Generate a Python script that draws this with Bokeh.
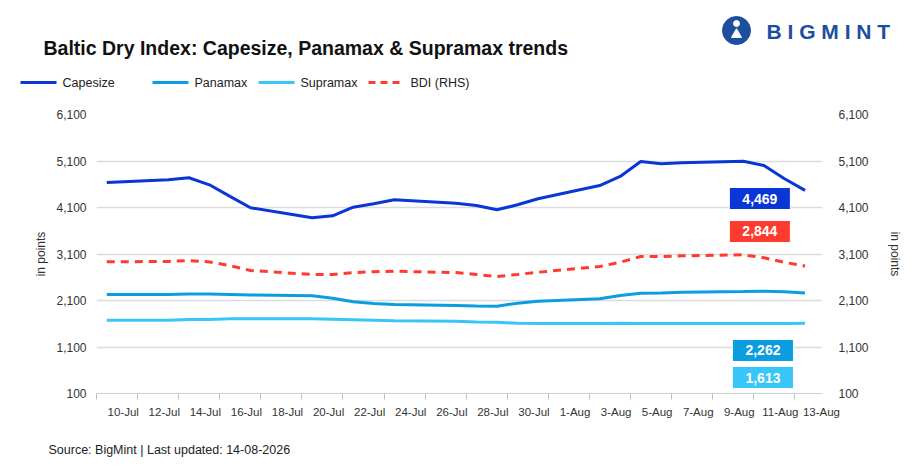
import pandas as pd
from bokeh.plotting import figure
from bokeh.layouts import column
from bokeh.models import (ColumnDataSource, Range1d, LinearAxis, FixedTicker, Label,
                          NumeralTickFormatter)
from bokeh.core.properties import value
from bokeh.embed import file_html
from bokeh.resources import INLINE

dates = ["2026-07-10", "2026-07-13", "2026-07-14", "2026-07-15", "2026-07-16", "2026-07-17",
         "2026-07-20", "2026-07-21", "2026-07-22", "2026-07-23", "2026-07-24",
         "2026-07-27", "2026-07-28", "2026-07-29", "2026-07-30", "2026-07-31",
         "2026-08-03", "2026-08-04", "2026-08-05", "2026-08-06", "2026-08-07",
         "2026-08-10", "2026-08-11", "2026-08-12", "2026-08-13"]
capesize = [4638, 4696, 4739, 4588, 4340, 4094, 3878, 3921, 4106, 4180, 4266,
            4192, 4143, 4050, 4158, 4287, 4573, 4767, 5089, 5040, 5060, 5096, 5003, 4717, 4469]
panamax = [2229, 2229, 2240, 2240, 2230, 2220, 2201, 2150, 2075, 2035, 2014,
           1995, 1980, 1977, 2042, 2085, 2137, 2207, 2257, 2260, 2279, 2293, 2300, 2290, 2262]
supramax = [1676, 1676, 1690, 1690, 1705, 1705, 1705, 1695, 1685, 1675, 1665,
            1655, 1640, 1630, 1610, 1605, 1605, 1613, 1608, 1605, 1605, 1605, 1605, 1605, 1613]
bdi = [2932, 2940, 2960, 2930, 2850, 2745, 2660, 2660, 2700, 2720, 2730,
       2700, 2660, 2616, 2660, 2708, 2831, 2924, 3046, 3046, 3060, 3083, 3018, 2920, 2844]
y_ticks = [100, 1100, 2100, 3100, 4100, 5100, 6100]
series_names = ["Capesize", "Panamax", "Supramax", "BDI (RHS)"]
last_labels = {"Capesize": "4,469", "BDI": "2,844", "Panamax": "2,262", "Supramax": "1,613"}

FONT = "Liberation Sans"
C_CAPE, C_PANA, C_SUPRA, C_BDI = "#0a36d6", "#0a9ee0", "#38c6f8", "#ff3b30"
start = pd.Timestamp("2026-07-10")
idx = [(pd.Timestamp(d) - start).days for d in dates]
ndays = (pd.Timestamp("2026-08-13") - start).days + 1
tick_days = list(range(0, ndays, 2))
tick_labels = [(start + pd.Timedelta(days=i)).strftime("%-d-%b") for i in tick_days]

W = 904

def blank(height, y0):
    f = figure(width=W, height=height, output_backend="svg", toolbar_location=None,
               x_range=Range1d(0, W), y_range=Range1d(y0 + height, y0), min_border=0)
    f.axis.visible = False
    f.grid.visible = False
    f.outline_line_color = None
    f.frame_align = False
    return f

# ---------- header (title, legend, logo) ----------
h = blank(100, 0)
h.text(x=[43], y=[47], text=["Baltic Dry Index: Capesize, Panamax & Supramax trends"],
       text_font=value(FONT), text_font_style="bold", text_font_size="19.5px",
       text_color="#111111", text_baseline="middle")
leg_x = [20, 152, 258, 368]
leg_cols = [C_CAPE, C_PANA, C_SUPRA, C_BDI]
for lx, name, col in zip(leg_x, series_names, leg_cols):
    h.line([lx, lx + 36], [82, 82], color=col, line_width=3,
           line_dash="7 5" if "BDI" in name else "solid")
    h.text(x=[lx + 42], y=[82], text=[name], text_font=value(FONT), text_font_size="12.5px",
           text_color="#222222", text_baseline="middle")
h.scatter([736], [30], size=28, color="#1d4f9e")
h.scatter([736], [23], size=6, color="white")
h.scatter([736], [34], size=10, marker="triangle", color="white")
h.text(x=[766], y=[31], text=["B I G M I N T"], text_font=value(FONT), text_font_style="bold",
       text_font_size="21px", text_color="#1d4f9e", text_baseline="middle")

# ---------- main chart ----------
src = ColumnDataSource(dict(x=idx, cape=capesize, pana=panamax, supra=supramax, bdi=bdi))
p = figure(width=W, height=320, output_backend="svg", toolbar_location=None,
           x_range=Range1d(-0.5, ndays - 0.15), y_range=Range1d(100, 6100),
           min_border_left=96, min_border_right=81, min_border_top=14, min_border_bottom=27)
p.frame_align = False
p.outline_line_color = None
p.xgrid.grid_line_color = None
p.ygrid.grid_line_color = "#dcdcdc"
p.ygrid.grid_line_width = 1.5
p.ygrid.ticker = FixedTicker(ticks=y_ticks)

ya = p.yaxis[0]
ra = LinearAxis()
p.add_layout(ra, "right")
for a in [ya, ra]:
    a.ticker = FixedTicker(ticks=y_ticks)
    a.formatter = NumeralTickFormatter(format="0,0")
    a.axis_line_color = None
    a.major_tick_line_color = None
    a.minor_tick_line_color = None
    a.axis_label = "in points"
    a.major_label_text_font = FONT
    a.major_label_text_font_size = "12px"
    a.major_label_text_color = "#333333"
    a.axis_label_text_font = FONT
    a.axis_label_text_font_size = "12px"
    a.axis_label_text_font_style = "normal"
    a.axis_label_text_color = "#333333"
ya.major_label_standoff = 4
ra.major_label_standoff = 10
ra.axis_label_standoff = 16

xa = p.xaxis[0]
xa.ticker = FixedTicker(ticks=[d + 0.8 for d in tick_days],
                        minor_ticks=[d - 0.5 for d in tick_days])
xa.major_label_overrides = {d + 0.8: l for d, l in zip(tick_days, tick_labels)}
xa.major_tick_line_color = None
xa.minor_tick_in = 0
xa.minor_tick_out = 6
xa.minor_tick_line_color = "#bfbfbf"
xa.axis_line_color = "#d0d0d0"
xa.major_label_text_font = FONT
xa.major_label_text_font_size = "11.5px"
xa.major_label_text_color = "#333333"
xa.major_label_standoff = 6

p.line("x", "cape", source=src, color=C_CAPE, line_width=3)
p.line("x", "pana", source=src, color=C_PANA, line_width=3)
p.line("x", "supra", source=src, color=C_SUPRA, line_width=3)
p.line("x", "bdi", source=src, color=C_BDI, line_width=3, line_dash="8 6")

box_specs = [("Capesize", 4293, C_CAPE, 31.8), ("BDI", 3584, C_BDI, 31.8),
             ("Panamax", 1025, C_PANA, 31.95), ("Supramax", 444, C_SUPRA, 31.95)]
for key, yv, col, xv in box_specs:
    p.add_layout(Label(x=xv, y=yv, text=last_labels[key], text_color="white",
                       text_font=FONT, text_font_style="bold", text_font_size="14px",
                       text_align="center", text_baseline="middle",
                       background_fill_color=col, border_line_color="white",
                       padding=(13, 6)))

# ---------- footer ----------
f = blank(43, 420)
f.text(x=[48], y=[449], text=["Source: BigMint | Last updated: 14-08-2026"],
       text_font=value(FONT), text_font_size="12.5px", text_color="#222222",
       text_baseline="middle")

open("out.html", "w").write(file_html(column(h, p, f, spacing=0), INLINE))
